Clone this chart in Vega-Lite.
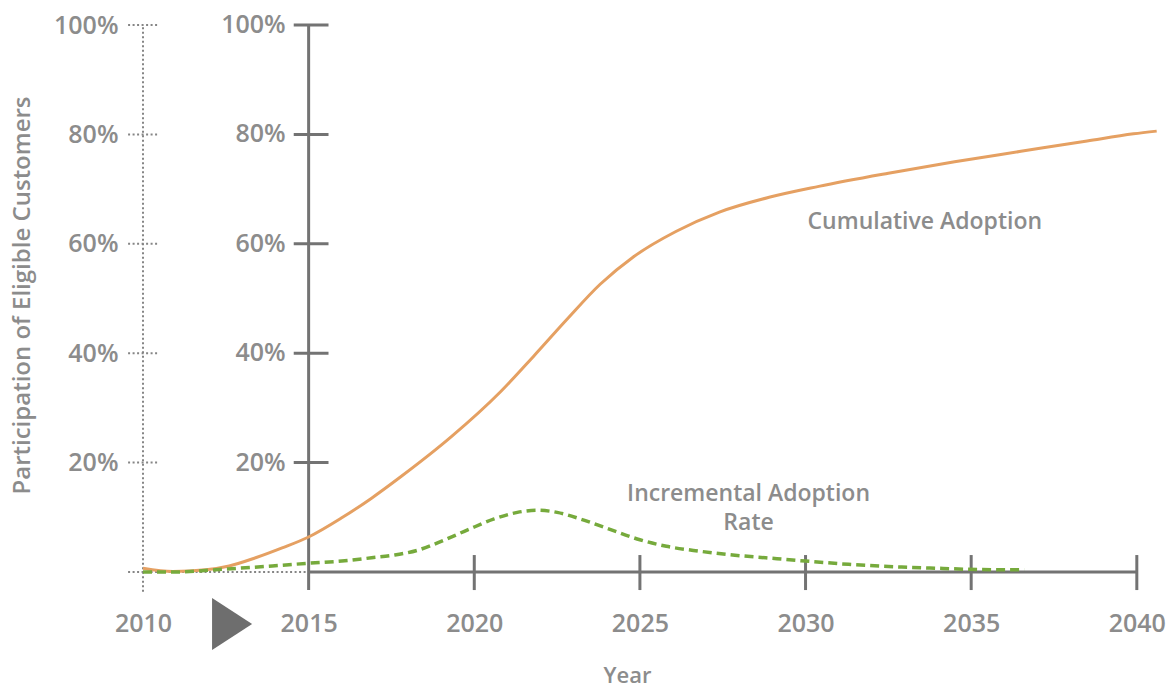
{
  "$schema": "https://vega.github.io/schema/vega-lite/v6.json",
  "autosize": {"type": "none"},
  "width": 1017,
  "height": 547,
  "padding": {"left": 143, "top": 25, "right": 7, "bottom": 116},
  "background": "white",
  "config": {
    "view": {"stroke": null},
    "font": "Open Sans"
  },
  "datasets": {
    "cum": [
      {"year": 2010.0, "pct": 0.7}, {"year": 2010.9, "pct": 0.1}, {"year": 2011.9, "pct": 0.4},
      {"year": 2012.6, "pct": 1.1}, {"year": 2013.4, "pct": 2.6}, {"year": 2014.2, "pct": 4.4},
      {"year": 2015.0, "pct": 6.4}, {"year": 2016.0, "pct": 9.9}, {"year": 2016.9, "pct": 13.5},
      {"year": 2017.8, "pct": 17.5}, {"year": 2019.3, "pct": 24.7}, {"year": 2020.8, "pct": 33.0},
      {"year": 2021.8, "pct": 39.5}, {"year": 2022.8, "pct": 46.2}, {"year": 2023.8, "pct": 52.6},
      {"year": 2024.8, "pct": 57.6}, {"year": 2026.1, "pct": 62.3}, {"year": 2027.4, "pct": 65.8},
      {"year": 2028.9, "pct": 68.5}, {"year": 2030.4, "pct": 70.5}, {"year": 2032.5, "pct": 72.9},
      {"year": 2034.5, "pct": 75.0}, {"year": 2036.5, "pct": 76.9}, {"year": 2038.5, "pct": 78.8},
      {"year": 2039.9, "pct": 80.1}, {"year": 2040.6, "pct": 80.6}
    ],
    "inc": [
      {"year": 2010.0, "pct": 0.0}, {"year": 2010.9, "pct": 0.0}, {"year": 2012.4, "pct": 0.5},
      {"year": 2013.9, "pct": 1.1}, {"year": 2015.0, "pct": 1.6}, {"year": 2016.0, "pct": 2.0},
      {"year": 2016.9, "pct": 2.6}, {"year": 2017.6, "pct": 3.1}, {"year": 2018.3, "pct": 4.0},
      {"year": 2019.0, "pct": 5.6}, {"year": 2019.8, "pct": 7.7}, {"year": 2020.6, "pct": 9.7},
      {"year": 2021.3, "pct": 10.9}, {"year": 2021.9, "pct": 11.3}, {"year": 2022.5, "pct": 10.9},
      {"year": 2023.2, "pct": 9.7}, {"year": 2024.0, "pct": 8.0}, {"year": 2025.0, "pct": 5.9},
      {"year": 2025.8, "pct": 4.7}, {"year": 2026.8, "pct": 3.8}, {"year": 2027.8, "pct": 3.1},
      {"year": 2028.8, "pct": 2.6}, {"year": 2030.0, "pct": 2.0}, {"year": 2031.3, "pct": 1.4},
      {"year": 2032.9, "pct": 0.9}, {"year": 2033.9, "pct": 0.7}, {"year": 2034.9, "pct": 0.5},
      {"year": 2035.9, "pct": 0.4}, {"year": 2036.6, "pct": 0.4}
    ],
    "dotted": [
      {"year": 2010, "year2": 2010, "pct": -3.6, "pct2": 100},
      {"year": 2009.55, "year2": 2015, "pct": 0, "pct2": 0},
      {"year": 2009.55, "year2": 2010.5, "pct": 20, "pct2": 20},
      {"year": 2009.55, "year2": 2010.5, "pct": 40, "pct2": 40},
      {"year": 2009.55, "year2": 2010.5, "pct": 60, "pct2": 60},
      {"year": 2009.55, "year2": 2010.5, "pct": 80, "pct2": 80},
      {"year": 2009.55, "year2": 2010.5, "pct": 100, "pct2": 100}
    ],
    "solid": [
      {"year": 2015, "year2": 2015, "pct": -3.3, "pct2": 100},
      {"year": 2015, "year2": 2040, "pct": 0, "pct2": 0},
      {"year": 2014.55, "year2": 2015.6, "pct": 20, "pct2": 20},
      {"year": 2014.55, "year2": 2015.6, "pct": 40, "pct2": 40},
      {"year": 2014.55, "year2": 2015.6, "pct": 60, "pct2": 60},
      {"year": 2014.55, "year2": 2015.6, "pct": 80, "pct2": 80},
      {"year": 2014.55, "year2": 2015.6, "pct": 100, "pct2": 100},
      {"year": 2020, "year2": 2020, "pct": -3.3, "pct2": 3.1},
      {"year": 2025, "year2": 2025, "pct": -3.3, "pct2": 3.1},
      {"year": 2030, "year2": 2030, "pct": -3.3, "pct2": 3.1},
      {"year": 2035, "year2": 2035, "pct": -3.3, "pct2": 3.1},
      {"year": 2040, "year2": 2040, "pct": -3.3, "pct2": 3.1}
    ],
    "axis2labels": [
      {"year": 2015, "pct": 20, "label": "20%"},
      {"year": 2015, "pct": 40, "label": "40%"},
      {"year": 2015, "pct": 60, "label": "60%"},
      {"year": 2015, "pct": 80, "label": "80%"},
      {"year": 2015, "pct": 100, "label": "100%"}
    ],
    "notes": [
      {"year": 2033.6, "pct": 62.7, "label": ["Cumulative Adoption"]},
      {"year": 2028.28, "pct": 12.9, "label": ["Incremental Adoption", "Rate"]}
    ],
    "marker": [
      {"year": 2012.69, "pct": -9.5}
    ]
  },
  "encoding": {
    "x": {
      "field": "year", "type": "quantitative",
      "scale": {"domain": [2010, 2040.7], "nice": false, "zero": false},
      "axis": {
        "values": [2010, 2015, 2020, 2025, 2030, 2035, 2040],
        "format": "d", "labelFlush": false, "labelOverlap": false,
        "domain": false, "ticks": false, "grid": false,
        "labelPadding": 39, "labelFontSize": 25, "labelFontWeight": 600,
        "labelColor": "#8c8c8c", "labelFont": "Open Sans",
        "title": "Year", "titleFont": "Open Sans", "titleFontSize": 22, "titleFontWeight": 600,
        "titleColor": "#8c8c8c", "titleX": 484, "titleY": 103,
        "titleAlign": "center", "titleBaseline": "middle"
      }
    },
    "y": {
      "field": "pct", "type": "quantitative",
      "scale": {"domain": [0, 100], "nice": false, "zero": false},
      "axis": {
        "values": [20, 40, 60, 80, 100],
        "labelExpr": "datum.value + '%'",
        "domain": false, "ticks": false, "grid": false,
        "labelPadding": 25, "labelFontSize": 25, "labelFontWeight": 600,
        "labelColor": "#8c8c8c", "labelFont": "Open Sans", "labelBaseline": "middle",
        "title": "Participation of Eligible Customers", "titleFont": "Open Sans",
        "titleFontSize": 24, "titleFontWeight": 600, "titleColor": "#8c8c8c",
        "titleX": -121, "titleY": 270, "titleAngle": -90,
        "titleAlign": "center", "titleBaseline": "middle"
      }
    }
  },
  "layer": [
    {
      "data": {"name": "dotted"},
      "mark": {"type": "rule", "color": "#858585", "strokeWidth": 2, "strokeDash": [2, 2.5]},
      "encoding": {"x2": {"field": "year2"}, "y2": {"field": "pct2"}}
    },
    {
      "data": {"name": "solid"},
      "mark": {"type": "rule", "color": "#737373", "strokeWidth": 3},
      "encoding": {"x2": {"field": "year2"}, "y2": {"field": "pct2"}}
    },
    {
      "data": {"name": "axis2labels"},
      "mark": {"type": "text", "align": "right", "baseline": "middle", "dx": -23,
               "font": "Open Sans", "fontSize": 25, "fontWeight": 600, "color": "#8c8c8c"},
      "encoding": {"text": {"field": "label"}}
    },
    {
      "data": {"name": "cum"},
      "mark": {"type": "line", "color": "#e5a062", "strokeWidth": 3, "interpolate": "monotone"},
      "encoding": {}
    },
    {
      "data": {"name": "inc"},
      "mark": {"type": "line", "color": "#76aa3c", "strokeWidth": 3.5, "strokeDash": [9, 5], "interpolate": "monotone"},
      "encoding": {}
    },
    {
      "data": {"name": "notes"},
      "mark": {"type": "text", "align": "center", "baseline": "alphabetic", "lineHeight": 29,
               "font": "Open Sans", "fontSize": 23, "fontWeight": 600, "color": "#8c8c8c"},
      "encoding": {"text": {"field": "label"}}
    },
    {
      "data": {"name": "marker"},
      "mark": {"type": "point", "shape": "M -0.77 -1 L 0.77 0 L -0.77 1 Z", "size": 2704,
               "filled": true, "color": "#6e6e6e", "opacity": 1},
      "encoding": {}
    }
  ]
}
